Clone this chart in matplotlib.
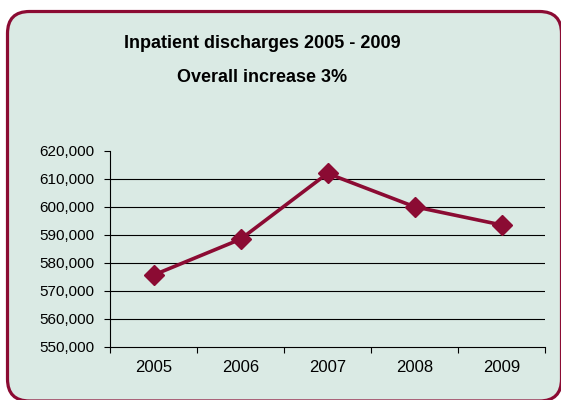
import matplotlib.pyplot as plt
from matplotlib.patches import FancyBboxPatch
from matplotlib.ticker import FuncFormatter, FixedLocator

# data
years = ["2005", "2006", "2007", "2008", "2009"]
discharges = [575700, 588500, 612000, 600100, 593600]

dark_red = "#8B0B33"
panel_bg = "#DAEAE4"

plt.rcParams['font.family'] = ['Liberation Sans', 'DejaVu Sans']

fig = plt.figure(figsize=(5.61, 4.0), dpi=100)
fig.patch.set_facecolor("white")

# rounded panel behind everything
panel = FancyBboxPatch(
    (0.075, -0.01), 5.54, 3.895,
    boxstyle="round,pad=0,rounding_size=0.22",
    transform=fig.dpi_scale_trans,
    facecolor=panel_bg,
    edgecolor=dark_red,
    linewidth=2.3,
    zorder=-5
)
fig.patches.append(panel)

ax = fig.add_axes([110/561, 1 - 347/400, 435/561, 196/400])
ax.set_facecolor("none")
ax.set_zorder(2)

x = list(range(len(years)))
ax.plot(x, discharges, color=dark_red, linewidth=2.6,
        marker="D", markersize=10, markerfacecolor=dark_red,
        markeredgecolor=dark_red, zorder=3, clip_on=False)

ax.set_xlim(-0.5, len(years) - 0.5)
ax.set_ylim(550000, 620000)
ax.set_yticks(range(550000, 620001, 10000))
ax.yaxis.set_major_formatter(FuncFormatter(lambda v, p: f"{int(v):,}"))

ax.set_xticks(x)
ax.set_xticklabels(years)
ax.xaxis.set_minor_locator(FixedLocator([i - 0.5 for i in range(len(years) + 1)]))
ax.tick_params(axis="x", which="major", length=0, pad=9, labelsize=12)
ax.tick_params(axis="x", which="minor", length=4, width=0.8, direction="out")
ax.tick_params(axis="y", length=4, width=0.8, direction="out", pad=7, labelsize=11)

# gridlines (not at top)
for v in range(560000, 620000, 10000):
    ax.axhline(v, color="black", linewidth=0.8, zorder=1)

for s in ["top", "right"]:
    ax.spines[s].set_visible(False)
ax.spines["left"].set_linewidth(0.8)
ax.spines["bottom"].set_linewidth(0.8)

fig.text(262/561, 1 - 43/400, "Inpatient discharges 2005 - 2009",
         ha="center", va="center", fontsize=13, fontweight="bold", zorder=3)
fig.text(262/561, 1 - 78/400, "Overall increase 3%",
         ha="center", va="center", fontsize=13, fontweight="bold", zorder=3)

fig.savefig("out.png", dpi=100, facecolor="white")
